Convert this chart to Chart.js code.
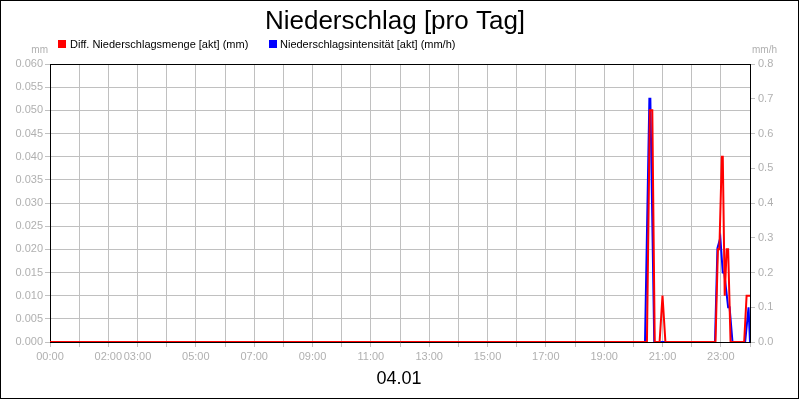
<!DOCTYPE html>
<html>
<head>
<meta charset="utf-8">
<script src="https://cdn.jsdelivr.net/npm/chart.js@4"></script>
<style>
    html, body { margin: 0; padding: 0; background: #fff; }
    canvas { display: block; }
</style>
</head>
<body>
<canvas id="rain-chart" width="800" height="400"></canvas>
<script>
// Niederschlag chart data (time in minutes since 00:00)

const amountMinutes = [0, 1228, 1234, 1239, 1244, 1254, 1260, 1266, 1369, 1374, 1377, 1382, 1384, 1388, 1392, 1395, 1400, 1428, 1433, 1440];
const amountValues  = [0, 0, 0.05, 0.05, 0, 0, 0.01, 0, 0, 0.02, 0.02, 0.04, 0.04, 0.01, 0.02, 0.02, 0, 0, 0.01, 0.01];

const intensityMinutes = [0, 1224, 1233, 1235, 1243, 1368, 1373, 1379, 1384, 1387, 1395, 1398, 1404, 1430, 1437, 1440];
const intensityValues  = [0, 0, 0.7, 0.7, 0, 0, 0.27, 0.3, 0.2, 0.2, 0.1, 0.1, 0, 0, 0.1, 0];

const tickMinutes = [0, 120, 180, 300, 420, 540, 660, 780, 900, 1020, 1140, 1260, 1380];
const tickLabels = ['00:00', '02:00', '03:00', '05:00', '07:00', '09:00', '11:00', '13:00', '15:00', '17:00', '19:00', '21:00', '23:00'];

const seriesNames = ['Diff. Niederschlagsmenge [akt] (mm)', 'Niederschlagsintensität [akt] (mm/h)'];
const chartTitle = 'Niederschlag [pro Tag]';
const dateLabel = '04.01';

const gridColor = '#c0c0c0';
const labelColor = '#b0b0b0';
const fontName = '"Liberation Sans", Arial, sans-serif';

// Build point lists for the library

let amountPoints = amountMinutes.map((m, i) => ({ x: m, y: amountValues[i] }));
let intensityPoints = intensityMinutes.map((m, i) => ({ x: m, y: intensityValues[i] }));

// Extra texts, frame and legend

let decorPlugin = {
    id: 'decor',
    beforeDatasetsDraw(chart) {
        const ctx = chart.ctx;
        const a = chart.chartArea;
        ctx.save();
        ctx.strokeStyle = '#000';
        ctx.lineWidth = 1;
        ctx.beginPath();
        ctx.moveTo(a.left, Math.round(a.top) + 0.5);
        ctx.lineTo(a.right, Math.round(a.top) + 0.5);
        ctx.stroke();
        ctx.restore();
    },
    afterDraw(chart) {
        const ctx = chart.ctx;
        ctx.save();

        // title
        ctx.fillStyle = '#000';
        ctx.font = '26px ' + fontName;
        ctx.textAlign = 'center';
        ctx.textBaseline = 'alphabetic';
        ctx.fillText(chartTitle, 395, 29);

        // legend
        ctx.font = '11px ' + fontName;
        ctx.textAlign = 'left';
        ctx.fillStyle = '#ff0000';
        ctx.fillRect(58, 40, 8, 8);
        ctx.fillStyle = '#0000ff';
        ctx.fillRect(269, 40, 8, 8);
        ctx.fillStyle = '#000';
        ctx.fillText(seriesNames[0], 70, 48);
        ctx.fillText(seriesNames[1], 280, 48);

        // unit labels
        ctx.fillStyle = labelColor;
        ctx.font = '10px ' + fontName;
        ctx.textAlign = 'right';
        ctx.fillText('mm', 48, 53);
        ctx.textAlign = 'left';
        ctx.fillText('mm/h', 752, 53);

        // date
        ctx.fillStyle = '#000';
        ctx.font = '18px ' + fontName;
        ctx.textAlign = 'center';
        ctx.fillText(dateLabel, 399, 384);

        // outer border
        ctx.strokeStyle = '#000';
        ctx.lineWidth = 1;
        ctx.strokeRect(0.5, 0.5, 798, 398);
        ctx.restore();
    }
};

let rainChart = new Chart(document.getElementById('rain-chart').getContext('2d'), {
    type: 'line',
    data: {
        datasets: [{
            label: seriesNames[0],
            data: amountPoints,
            borderColor: '#ff0000',
            backgroundColor: '#ff0000',
            borderWidth: 2,
            pointRadius: 0,
            tension: 0,
            yAxisID: 'y'
        }, {
            label: seriesNames[1],
            data: intensityPoints,
            borderColor: '#0000ff',
            backgroundColor: '#0000ff',
            borderWidth: 2,
            pointRadius: 0,
            tension: 0,
            yAxisID: 'y1'
        }]
    },
    options: {
        responsive: false,
        animation: false,
        devicePixelRatio: 1,
        layout: {
            padding: { top: 64, left: 0, right: 0, bottom: 0 }
        },
        scales: {
            x: {
                type: 'linear',
                min: 0,
                max: 1440,
                afterBuildTicks: (scale) => {
                    let ticks = [];
                    for (let m = 0; m <= 1440; m += 60) ticks.push({ value: m });
                    scale.ticks = ticks;
                },
                afterFit: (scale) => { scale.height = 58; },
                ticks: {
                    autoSkip: false,
                    maxRotation: 0,
                    padding: 3,
                    color: labelColor,
                    font: { family: fontName, size: 11 },
                    callback: (value) => {
                        let i = tickMinutes.indexOf(value);
                        return i >= 0 ? tickLabels[i] : '';
                    }
                },
                grid: { color: gridColor, tickColor: gridColor, tickLength: 5 },
                border: { color: '#000', width: 1 }
            },
            y: {
                position: 'left',
                min: 0,
                max: 0.06,
                afterFit: (scale) => { scale.width = 50; },
                ticks: {
                    stepSize: 0.005,
                    padding: 2,
                    color: labelColor,
                    font: { family: fontName, size: 11 },
                    callback: (value) => value.toFixed(3)
                },
                grid: { color: gridColor, tickColor: gridColor, tickLength: 5 },
                border: { color: '#000', width: 1 }
            },
            y1: {
                position: 'right',
                min: 0,
                max: 0.8,
                afterFit: (scale) => { scale.width = 50; },
                ticks: {
                    stepSize: 0.1,
                    padding: 3,
                    color: labelColor,
                    font: { family: fontName, size: 11 },
                    callback: (value) => value.toFixed(1)
                },
                grid: { drawOnChartArea: false, tickColor: gridColor, tickLength: 5 },
                border: { color: '#000', width: 1 }
            }
        },
        plugins: {
            legend: { display: false },
            title: { display: false },
            tooltip: { enabled: false }
        }
    },
    plugins: [decorPlugin]
});
</script>
</body>
</html>
